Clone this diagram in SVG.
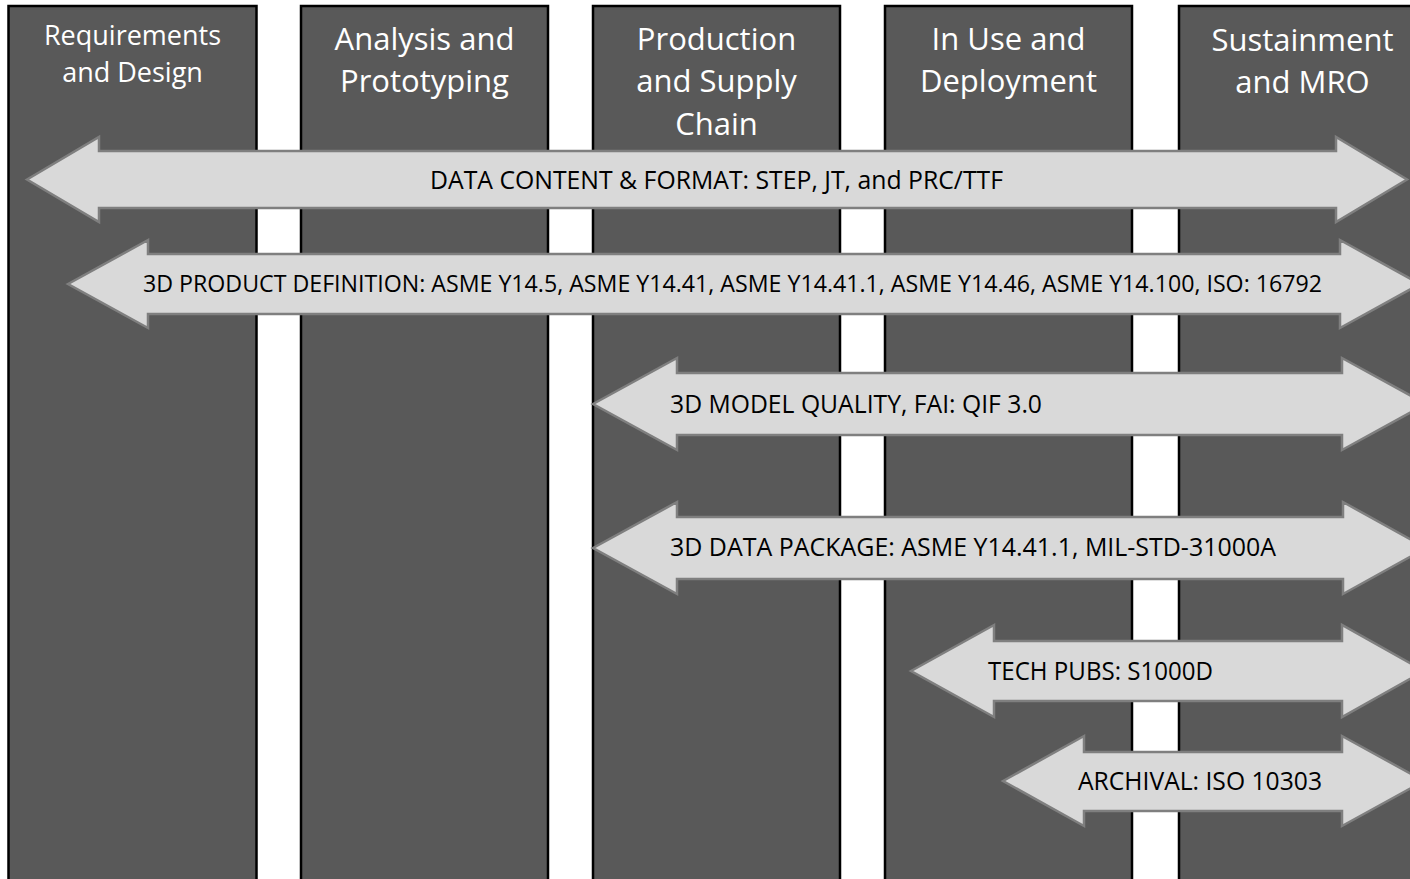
<svg xmlns="http://www.w3.org/2000/svg" width="1410" height="879" viewBox="0 0 1410 879">
  <style>
    .col { fill: #595959; stroke: #000000; stroke-width: 2.5; }
    .hdr { fill: #ffffff; font-family: "Open Sans", "Noto Sans", sans-serif; font-size: 31px; text-anchor: middle; }
    .hdr1 { font-size: 27px; }
    .band { fill: #d9d9d9; stroke: #7f7f7f; stroke-width: 2.5; stroke-linejoin: miter; }
    .lbl { fill: #000000; font-family: "Open Sans", "Noto Sans", sans-serif; font-size: 25.5px; }
    .lbl-long { font-size: 24px; }
  </style>
  <rect x="0" y="0" width="1410" height="879" fill="#ffffff"/>

  <g id="col-requirements">
    <rect class="col" x="8.5" y="6" width="248" height="890"/>
    <text class="hdr hdr1" x="132.5" y="45">Requirements</text>
    <text class="hdr hdr1" x="132.5" y="82">and Design</text>
  </g>
  <g id="col-analysis">
    <rect class="col" x="301" y="6" width="247" height="890"/>
    <text class="hdr" x="424.5" y="50">Analysis and</text>
    <text class="hdr" x="424.5" y="92">Prototyping</text>
  </g>
  <g id="col-production">
    <rect class="col" x="593" y="6" width="247" height="890"/>
    <text class="hdr" x="716.5" y="50">Production</text>
    <text class="hdr" x="716.5" y="92">and Supply</text>
    <text class="hdr" x="716.5" y="135">Chain</text>
  </g>
  <g id="col-inuse">
    <rect class="col" x="885" y="6" width="247" height="890"/>
    <text class="hdr" x="1008.5" y="50">In Use and</text>
    <text class="hdr" x="1008.5" y="92">Deployment</text>
  </g>
  <g id="col-sustainment">
    <rect class="col" x="1179" y="6" width="245" height="890"/>
    <text class="hdr" x="1302.5" y="51">Sustainment</text>
    <text class="hdr" x="1302.5" y="93">and MRO</text>
  </g>

  <g id="connectors">
    <g id="arrow-data-content">
      <polygon class="band" points="27,179.5 99,137 99,151 1336,151 1336,137 1407,179.5 1336,222 1336,208 99,208 99,222"/>
      <text class="lbl" x="430" y="189" textLength="573" lengthAdjust="spacingAndGlyphs">DATA CONTENT &amp; FORMAT: STEP, JT, and PRC/TTF</text>
    </g>
    <g id="arrow-3d-product">
      <polygon class="band" points="68,284 148,240 148,254 1340,254 1340,240 1420,284 1340,328 1340,314 148,314 148,328"/>
      <text class="lbl lbl-long" x="143" y="292" textLength="1179" lengthAdjust="spacingAndGlyphs">3D PRODUCT DEFINITION: ASME Y14.5, ASME Y14.41, ASME Y14.41.1, ASME Y14.46, ASME Y14.100, ISO: 16792</text>
    </g>
    <g id="arrow-3d-model-quality">
      <polygon class="band" points="593,404 677,358 677,373 1342,373 1342,358 1426,404 1342,450 1342,435 677,435 677,450"/>
      <text class="lbl" x="670" y="413" textLength="372" lengthAdjust="spacingAndGlyphs">3D MODEL QUALITY, FAI: QIF 3.0</text>
    </g>
    <g id="arrow-3d-data-package">
      <polygon class="band" points="593,548 677,502 677,517 1343,517 1343,502 1426,548 1343,594 1343,579 677,579 677,594"/>
      <text class="lbl" x="670" y="556" textLength="606" lengthAdjust="spacingAndGlyphs">3D DATA PACKAGE: ASME Y14.41.1, MIL-STD-31000A</text>
    </g>
    <g id="arrow-tech-pubs">
      <polygon class="band" points="911,671 994,625 994,641 1342,641 1342,625 1424,671 1342,717 1342,701 994,701 994,717"/>
      <text class="lbl" x="988" y="680" textLength="225" lengthAdjust="spacingAndGlyphs">TECH PUBS: S1000D</text>
    </g>
    <g id="arrow-archival">
      <polygon class="band" points="1003,781 1084,736 1084,752 1342,752 1342,736 1424,781 1342,826 1342,811 1084,811 1084,826"/>
      <text class="lbl" x="1078" y="790" textLength="244" lengthAdjust="spacingAndGlyphs">ARCHIVAL: ISO 10303</text>
    </g>
  </g>
</svg>
